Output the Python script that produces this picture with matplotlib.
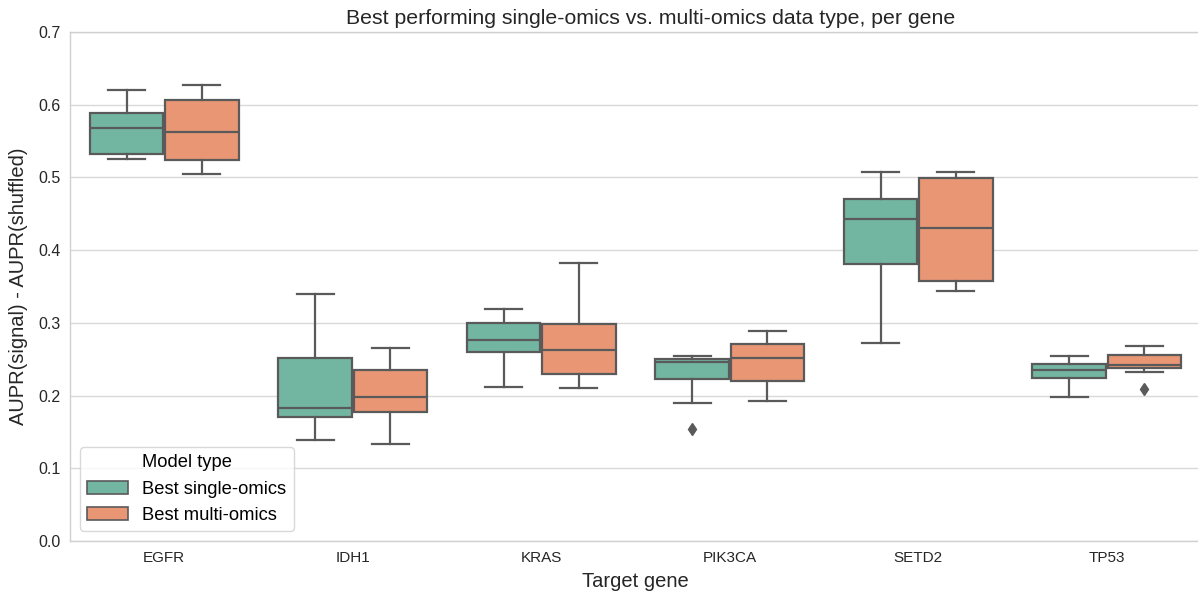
import matplotlib
matplotlib.use("Agg")
import matplotlib.pyplot as plt
from matplotlib.patches import Patch
import numpy as np

genes = ["EGFR", "IDH1", "KRAS", "PIK3CA", "SETD2", "TP53"]
model_types = ["Best single-omics", "Best multi-omics"]

# box statistics per gene: [whislo, q1, median, q3, whishi]
single_stats = [
    [0.526, 0.532, 0.568, 0.588, 0.620],
    [0.139, 0.171, 0.1825, 0.251, 0.339],
    [0.212, 0.2595, 0.2765, 0.300, 0.3195],
    [0.190, 0.223, 0.246, 0.250, 0.254],
    [0.272, 0.381, 0.443, 0.470, 0.508],
    [0.1985, 0.2235, 0.235, 0.2435, 0.255],
]
multi_stats = [
    [0.505, 0.524, 0.563, 0.606, 0.627],
    [0.134, 0.177, 0.198, 0.235, 0.265],
    [0.210, 0.229, 0.263, 0.2985, 0.382],
    [0.193, 0.2205, 0.252, 0.271, 0.289],
    [0.344, 0.358, 0.430, 0.499, 0.507],
    [0.233, 0.238, 0.242, 0.256, 0.2687],
]
single_fliers = [[], [], [], [0.154], [], []]
multi_fliers = [[], [], [], [], [], [0.2095]]

colors = ["#72b6a1", "#e99675"]
edge = "#5a5a5a"

plt.rcParams['font.family'] = ['Liberation Sans', 'DejaVu Sans']

fig = plt.figure(figsize=(11.98, 5.93), dpi=100)
ax = fig.add_axes([70 / 1198, 52 / 593, 1131 / 1198, 509 / 593])

def make_stats(stats, fliers):
    out = []
    for s, f in zip(stats, fliers):
        out.append(dict(whislo=s[0], q1=s[1], med=s[2], q3=s[3], whishi=s[4], fliers=f))
    return out

x = np.arange(len(genes))
for k, (stats, fl) in enumerate([(single_stats, single_fliers), (multi_stats, multi_fliers)]):
    pos = x + (-0.2 if k == 0 else 0.2)
    ax.bxp(make_stats(stats, fl), positions=pos, widths=0.392, patch_artist=True,
           showfliers=True,
           boxprops=dict(facecolor=colors[k], edgecolor=edge, linewidth=1.6),
           medianprops=dict(color=edge, linewidth=1.6),
           whiskerprops=dict(color=edge, linewidth=1.6),
           capprops=dict(color=edge, linewidth=1.6),
           flierprops=dict(marker='d', markerfacecolor=edge, markeredgecolor=edge, markersize=6.5),
           zorder=3)

ax.set_xlim(-0.5, len(genes) - 0.5)
ax.set_ylim(0, 0.7)
ax.set_xticks(x)
ax.set_xticklabels(genes, fontsize=11)
ax.set_yticks(np.arange(0, 0.71, 0.1))
ax.set_yticklabels([f"{v:.1f}" for v in np.arange(0, 0.71, 0.1)], fontsize=11.5)
ax.tick_params(axis='both', length=0, pad=7, colors="#262626")
ax.yaxis.grid(True, color="#d9d9d9", linewidth=1, zorder=0)
ax.xaxis.grid(False)
ax.set_axisbelow(True)
for sp in ax.spines.values():
    sp.set_color("#d0d0d0")
    sp.set_linewidth(1)

ax.set_title("Best performing single-omics vs. multi-omics data type, per gene",
             fontsize=15.3, color="#262626", pad=6, x=0.513)
ax.set_xlabel("Target gene", fontsize=14.5, color="#262626", labelpad=5)
ax.set_ylabel("AUPR(signal) - AUPR(shuffled)", fontsize=14.5, color="#262626", labelpad=7)

handles = [Patch(facecolor=colors[i], edgecolor=edge, linewidth=1.2) for i in range(2)]
leg = ax.legend(handles, model_types, title="Model type", loc="lower left",
                fontsize=13.2, title_fontsize=13.2, frameon=True, borderaxespad=0,
                bbox_to_anchor=(10 / 1131, 10 / 509), handlelength=2.2)
leg.get_frame().set_edgecolor("#d0d0d0")

fig.savefig("out.png", dpi=100)
